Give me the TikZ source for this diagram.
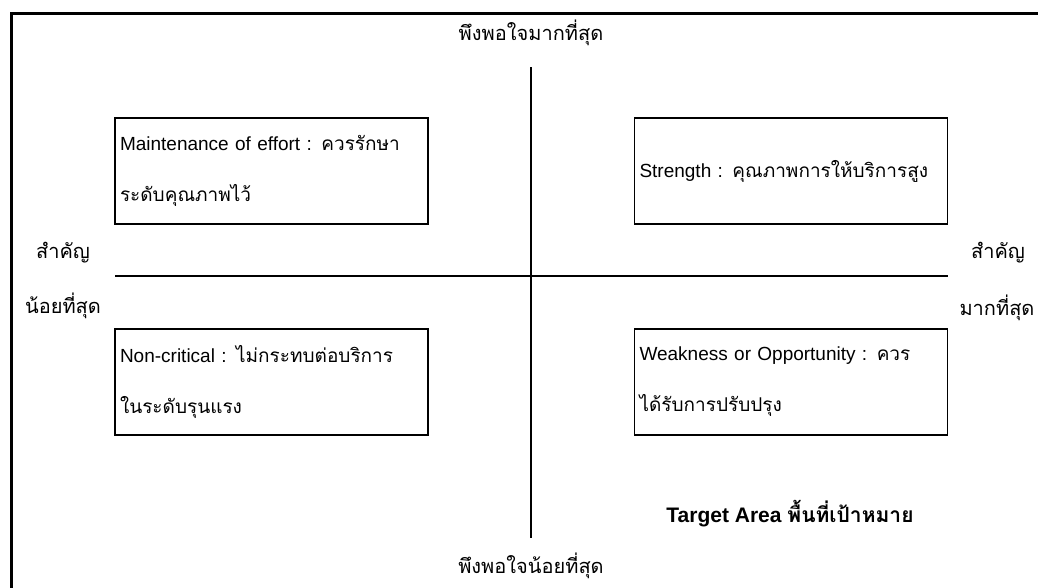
\documentclass[tikz,border=0pt]{standalone}
\usepackage{fontspec}
\setmainfont{Liberation Sans}
\newfontfamily\thaifont[Script=Thai]{Loma}
\newcommand\thai[1]{{\thaifont #1}}
\begin{document}
\begin{tikzpicture}[x=1pt,y=-1pt,
	quad/.style={draw, line width=1.2pt, text width=303pt, inner xsep=5pt, minimum height=106pt, align=left, font=\fontsize{19}{51}\selectfont},
	axis/.style={line width=1.2pt},
	axlabel/.style={font=\thaifont\fontsize{20}{24}\selectfont, inner sep=0pt, anchor=base}]
	\useasboundingbox (0,0) rectangle (1038,587);
	\clip (0,0) rectangle (1038,587);
	\draw[line width=3pt] (11,13) rectangle (1060,610);
	
	\coordinate (top) at (531,67);
	\coordinate (bottom) at (531,538);
	\coordinate (left) at (115,276);
	\coordinate (right) at (948,276);
	\draw[axis] (top) -- (bottom);
	\draw[axis] (left) -- (right);
	
	\node[quad] (maintain) at (271.5,171) {Maintenance of effort : \thai{ควรรักษา}\\\thai{ระดับคุณภาพไว้}};
	\node[quad] (strength) at (791,171) {\raisebox{-8pt}{Strength : \thai{คุณภาพการให้บริการสูง}}};
	\node[quad] (noncrit) at (271.5,382) {Non-critical : \thai{ไม่กระทบต่อบริการ}\\\thai{ในระดับรุนแรง}};
	\node[quad] (weak) at (791,382) {Weakness or Opportunity : \thai{ควร}\\\thai{ได้รับการปรับปรุง}};
	
	\node[axlabel] (most) at (531,40) {พึงพอใจมากที่สุด};
	\node[axlabel] (least) at (531,573) {พึงพอใจน้อยที่สุด};
	\node[axlabel] (impL) at (63,258) {สำคัญ};
	\node[axlabel] (leastL) at (63,313) {น้อยที่สุด};
	\node[axlabel] (impR) at (998,258) {สำคัญ};
	\node[axlabel] (mostR) at (997,315) {มากที่สุด};
	
	\node[anchor=base, inner sep=0pt, font=\bfseries\fontsize{21}{25}\selectfont] (target) at (790,522) {Target Area \thai{พื้นที่เป้าหมาย}};
\end{tikzpicture}
\end{document}
